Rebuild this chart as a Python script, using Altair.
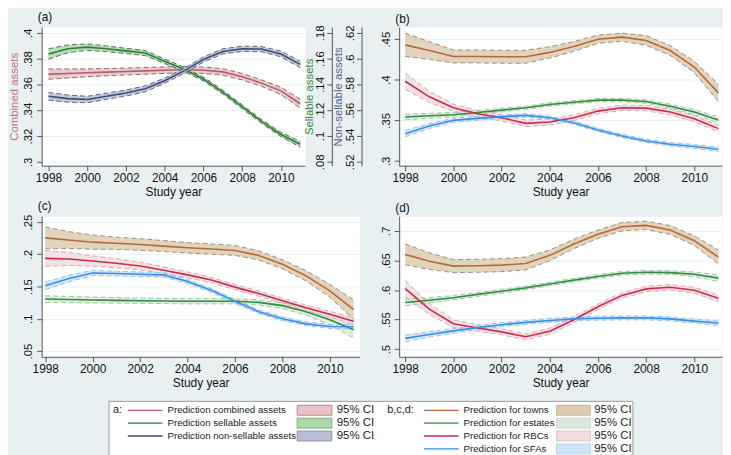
import altair as alt
import pandas as pd

years = list(range(1998, 2012))

# ---- panel (a) ----
comb_val = [.368, .3685, .369, .3695, .370, .3705, .371, .3715, .371, .3697, .366, .361, .355, .345]
comb_hw = [.004, .0035, .003, .0028, .0027, .0026, .0025, .0025, .0025, .0025, .0025, .0025, .0028, .0035]
sell_val = [.1636, .1676, .1689, .1676, .166, .1643, .158, .1517, .1442, .134, .1227, .1113, .1012, .0936]
sell_hw = [.004, .003, .0025, .0022, .002, .002, .0018, .0016, .0015, .0015, .0015, .0015, .0017, .0022]
non_val = [.5708, .569, .5683, .5708, .5733, .5766, .5829, .5905, .5993, .6056, .6076, .6074, .6036, .5955]
non_hw = [.003, .0028, .0025, .0024, .0023, .0023, .002, .002, .002, .002, .002, .002, .0022, .0025]

# ---- panel (b) ----
b_towns = [.443, .436, .4287, .4287, .4283, .4283, .4337, .441, .45, .4525, .4484, .436, .4157, .3838]
b_towns_hw = [.0143, .011, .008, .008, .008, .008, .007, .006, .005, .005, .006, .006, .007, .0106]
b_est = [.354, .3555, .3568, .3595, .3625, .3654, .3695, .3723, .3748, .3748, .3732, .3674, .3601, .3503]
b_est_hw = [.0035, .003, .0028, .0025, .0022, .002, .002, .002, .002, .002, .0022, .0025, .003, .0038]
b_rbc = [.3981, .3789, .3654, .358, .3531, .3462, .3478, .3531, .3613, .3654, .365, .3601, .3519, .3397]
b_rbc_hw = [.01, .007, .0045, .004, .004, .004, .0038, .0035, .0033, .0033, .0033, .0035, .0038, .004]
b_sfa = [.3335, .3429, .3499, .3523, .3544, .356, .3531, .347, .338, .3307, .3245, .3204, .3176, .3143]
b_sfa_hw = [.004, .003, .0025, .0023, .0022, .0022, .002, .002, .002, .002, .002, .0022, .0025, .0028]

# ---- panel (c) ----
c_towns = [.2254, .222, .2187, .217, .2151, .2126, .21, .208, .2059, .1982, .1844, .1664, .1433, .1141]
c_towns_hw = [.017, .013, .011, .0095, .009, .0085, .008, .008, .0077, .007, .007, .008, .01, .015]
c_est = [.1305, .1298, .129, .1285, .128, .1275, .127, .127, .127, .1254, .1203, .111, .0985, .0828]
c_est_hw = [.005, .0048, .0045, .0043, .004, .004, .004, .004, .004, .004, .0045, .0055, .008, .013]
c_rbc = [.1936, .1926, .1895, .1859, .1818, .1751, .168, .160, .149, .139, .128, .117, .107, .096]
c_rbc_hw = [.0123, .01, .008, .007, .006, .005, .0045, .004, .004, .004, .004, .004, .0045, .0055]
c_sfa = [.151, .1623, .171, .170, .169, .168, .1577, .144, .127, .111, .100, .092, .088, .0875]
c_sfa_hw = [.006, .005, .004, .0035, .0035, .0035, .0033, .003, .003, .003, .003, .003, .003, .0035]

# ---- panel (d) ----
d_towns = [.6603, .6488, .6405, .641, .6421, .6449, .6587, .678, .6945, .7072, .7094, .7017, .6835, .6559]
d_towns_hw = [.0176, .014, .011, .011, .011, .011, .009, .008, .007, .007, .007, .0075, .008, .012]
d_est = [.5788, .5826, .587, .5926, .598, .6036, .6102, .6168, .6229, .6284, .63, .6295, .6267, .6201]
d_est_hw = [.0055, .0045, .0038, .0035, .0032, .003, .003, .003, .003, .003, .003, .0032, .0038, .0055]
d_rbc = [.6025, .5678, .543, .5358, .5292, .5209, .5303, .5496, .5716, .5909, .6019, .6047, .5997, .5859]
d_rbc_hw = [.0138, .009, .0065, .0055, .005, .005, .005, .005, .0045, .0045, .0045, .0045, .005, .0055]
d_sfa = [.5182, .5248, .5309, .5364, .5413, .5452, .5485, .5512, .5523, .5529, .5529, .5512, .5474, .5441]
d_sfa_hw = [.0055, .0045, .004, .0035, .0033, .0033, .0033, .0033, .0033, .0033, .0033, .0033, .0035, .004]

series_a = ["combined", "sellable", "nonsellable"]
series_g = ["towns", "estates", "RBCs", "SFAs"]

line_cols = {"combined": "#b45f6a", "sellable": "#2f7d37", "nonsellable": "#3e4a78",
             "towns": "#b5683f", "estates": "#2f8f3a", "RBCs": "#cc2a4c", "SFAs": "#3a8ee6"}
band_cols = {"combined": "#e6c3c8", "sellable": "#add8a9", "nonsellable": "#b9bed3",
             "towns": "#dccdb2", "estates": "#dde9df", "RBCs": "#efdde0", "SFAs": "#cfe4f7"}
dash_cols = {"combined": "#8c6a70", "sellable": "#4f7352", "nonsellable": "#5f6580",
             "towns": "#a0907a", "estates": "#9cc89f", "RBCs": "#d9a9b1", "SFAs": "#94c3ee"}
swatch_edge = {"combined": "#c7838d", "sellable": "#78b476", "nonsellable": "#8f94aa",
               "towns": "#c8b898", "estates": "#c3d8c6", "RBCs": "#dfc3c7", "SFAs": "#b3d2ee"}

all_series = series_a + series_g
fill_scale = alt.Scale(domain=all_series, range=[band_cols[s] for s in all_series])
line_scale = alt.Scale(domain=all_series, range=[line_cols[s] for s in all_series])
dash_scale = alt.Scale(domain=all_series, range=[dash_cols[s] for s in all_series])


def frame(series, vals, hws):
    return pd.DataFrame({
        "series": series, "year": years, "val": vals,
        "lo": [v - h for v, h in zip(vals, hws)],
        "hi": [v + h for v, h in zip(vals, hws)],
    })


LABEL_EXPR = "replace(format(datum.value, '.2~f'), '0.', '.')"
FONT = "Liberation Sans"


def x_enc(domain):
    return alt.X("year:Q", scale=alt.Scale(domain=domain, nice=False, zero=False),
                 axis=alt.Axis(values=list(range(1998, 2011, 2)), format="d", grid=False,
                               title="Study year"))


def y_axis(values, title=None, title_color="#000", offset=0, grid=True, tight=False):
    kw = dict(orient="left", values=values, labelExpr=LABEL_EXPR, labelAngle=-90,
              labelAlign="center", labelBaseline="bottom", grid=grid, labelFontSize=11.5,
              titleFontSize=11.5, titlePadding=1 if tight else 3, labelPadding=1 if tight else 3)
    if offset:
        kw["offset"] = offset
    if title:
        kw["title"] = title
        kw["titleColor"] = title_color
    else:
        kw["title"] = None
    return alt.Axis(**kw)


def series_layer(df, xdom, ydom, axis):
    base = alt.Chart(df)
    ysc = alt.Scale(domain=ydom, nice=False, zero=False)

    def y(f):
        return alt.Y(f + ":Q", scale=ysc, axis=axis)

    band = base.mark_area(interpolate="linear", opacity=0.85).encode(
        x=x_enc(xdom), y=y("lo"), y2="hi:Q",
        fill=alt.Fill("series:N", scale=fill_scale, legend=None))
    lo = base.mark_line(strokeWidth=1, strokeDash=[5, 3]).encode(
        x=x_enc(xdom), y=y("lo"), color=alt.Color("series:N", scale=dash_scale, legend=None))
    hi = base.mark_line(strokeWidth=1, strokeDash=[5, 3]).encode(
        x=x_enc(xdom), y=y("hi"), color=alt.Color("series:N", scale=dash_scale, legend=None))
    ln = base.mark_line(strokeWidth=1.6).encode(
        x=x_enc(xdom), y=y("val"), stroke=alt.Stroke("series:N", scale=line_scale, legend=None))
    return alt.layer(band, lo, hi, ln)


def ptitle(t):
    return alt.TitleParams(t, anchor="start", frame="group", fontSize=12, fontWeight="normal",
                           offset=1, dx=-4, font=FONT, color="#111")


W1, W2 = 266, 326
H1, H2 = 140, 142

# (a)
xa = [1997.65, 2011.25]
la = series_layer(frame("combined", comb_val, comb_hw), xa, [0.297, 0.4045],
                  y_axis([.3, .32, .34, .36, .38, .4], "Combined assets", "#c0737d"))
lb = series_layer(frame("sellable", sell_val, sell_hw), xa, [0.077, 0.1845],
                  y_axis([.08, .1, .12, .14, .16, .18], "Sellable assets", "#3d8b45",
                         offset=-293, grid=False, tight=True))
lc = series_layer(frame("nonsellable", non_val, non_hw), xa, [0.517, 0.6245],
                  y_axis([.52, .54, .56, .58, .6, .62], "Non-sellable assets", "#56608c",
                         offset=-323, grid=False, tight=True))
panel_a = alt.layer(la, lb, lc).resolve_scale(y="independent").properties(
    width=W1, height=H1, title=ptitle("(a)"))


def group_df(vals_list, hws_list):
    return pd.concat([frame(s, v, h) for s, v, h in zip(series_g, vals_list, hws_list)],
                     ignore_index=True)


xg = [1997.75, 2011.15]
panel_b = series_layer(group_df([b_towns, b_est, b_rbc, b_sfa], [b_towns_hw, b_est_hw, b_rbc_hw, b_sfa_hw]),
                       xg, [0.294, 0.465], y_axis([.3, .35, .4, .45])).properties(
    width=W2, height=H1, title=ptitle("(b)"))
panel_c = series_layer(group_df([c_towns, c_est, c_rbc, c_sfa], [c_towns_hw, c_est_hw, c_rbc_hw, c_sfa_hw]),
                       [1997.85, 2011.25], [0.041, 0.259], y_axis([.05, .1, .15, .2, .25])).properties(
    width=321, height=H2, title=ptitle("(c)"))
panel_d = series_layer(group_df([d_towns, d_est, d_rbc, d_sfa], [d_towns_hw, d_est_hw, d_rbc_hw, d_sfa_hw]),
                       xg, [0.487, 0.725], y_axis([.5, .55, .6, .65, .7])).properties(
    width=W2, height=H2, title=ptitle("(d)"))

# ---- legend ----
leg_a_labels = ["Prediction combined assets", "Prediction sellable assets", "Prediction non-sellable assets"]
leg_g_labels = ["Prediction for towns", "Prediction for estates", "Prediction for RBCs", "Prediction for SFAs"]
leg_headers = ["a:", "b,c,d:"]
ci_label = "95% CI"

rows = []
for i, (s, lab) in enumerate(zip(series_a, leg_a_labels)):
    rows.append(dict(series=s, label=lab, row=i, l0=19, l1=54, t=59, s0=190, s1=225, ci=230))
for i, (s, lab) in enumerate(zip(series_g, leg_g_labels)):
    rows.append(dict(series=s, label=lab, row=i, l0=318, l1=353, t=358, s0=452, s1=486, ci=490))
leg_df = pd.DataFrame(rows)
leg_df["yc"] = 9 + 13 * leg_df["row"]
leg_df["ya"] = leg_df["yc"] - 5
leg_df["yb"] = leg_df["yc"] + 5
leg_df["ci_label"] = ci_label
leg_df["edge"] = leg_df["series"].map(swatch_edge)

hdr_df = pd.DataFrame({"label": leg_headers, "t": [4, 281], "yc": [9, 9]})
box_df = pd.DataFrame({"x0": [0], "x1": [529], "y0": [0], "y1": [55]})

LX = alt.Scale(domain=[0, 529], range=[68, 597])
LY = alt.Scale(domain=[0, 55], range=[-6, 49])

box = alt.Chart(box_df).mark_rect(fill="white", stroke="#9a9a9a", strokeWidth=1).encode(
    x=alt.X("x0:Q", scale=LX, axis=None), x2="x1:Q",
    y=alt.Y("y0:Q", scale=LY, axis=None), y2="y1:Q")
lb_base = alt.Chart(leg_df)
leg_lines = lb_base.mark_rule(strokeWidth=1.3).encode(
    x=alt.X("l0:Q", scale=LX, axis=None), x2="l1:Q",
    y=alt.Y("yc:Q", scale=LY, axis=None),
    color=alt.Color("series:N", scale=line_scale, legend=None))
leg_text = lb_base.mark_text(align="left", baseline="middle", fontSize=9.8, font=FONT, color="#222").encode(
    x=alt.X("t:Q", scale=LX, axis=None), y=alt.Y("yc:Q", scale=LY, axis=None), text="label:N")
leg_sw = lb_base.mark_rect(strokeWidth=1).encode(
    x=alt.X("s0:Q", scale=LX, axis=None), x2="s1:Q",
    y=alt.Y("ya:Q", scale=LY, axis=None), y2="yb:Q",
    fill=alt.Fill("series:N", scale=fill_scale, legend=None),
    stroke=alt.Stroke("edge:N", scale=None, legend=None))
leg_ci = lb_base.mark_text(align="left", baseline="middle", fontSize=11.5, font=FONT, color="#222").encode(
    x=alt.X("ci:Q", scale=LX, axis=None), y=alt.Y("yc:Q", scale=LY, axis=None), text="ci_label:N")
leg_hdr = alt.Chart(hdr_df).mark_text(align="left", baseline="middle", fontSize=11, font=FONT, color="#222").encode(
    x=alt.X("t:Q", scale=LX, axis=None), y=alt.Y("yc:Q", scale=LY, axis=None), text="label:N")
legend = alt.layer(box, leg_lines, leg_sw, leg_text, leg_ci, leg_hdr).resolve_scale(
    fill="independent", stroke="independent", color="independent").properties(
    width=10, height=10, view=alt.ViewBackground(fill="transparent", stroke="transparent"))

chart = alt.concat(panel_a, panel_b, panel_c, panel_d, legend, columns=2, bounds="flush",
                   spacing={"row": 51, "column": 40}).properties(
    padding=0, background="#e9f0f2").configure(font=FONT).configure_view(
    fill="white", stroke="transparent").configure_axis(
    domainColor="#555", tickColor="#555", labelColor="#111", titleColor="#111",
    gridColor="#e9f0f2", labelFont=FONT, titleFont=FONT, titleFontWeight="normal",
    tickSize=5, labelFontSize=12, titleFontSize=12).configure_axisX(labelPadding=2, titlePadding=3)

chart.save("out.html", embed_options={"renderer": "svg", "actions": False})
